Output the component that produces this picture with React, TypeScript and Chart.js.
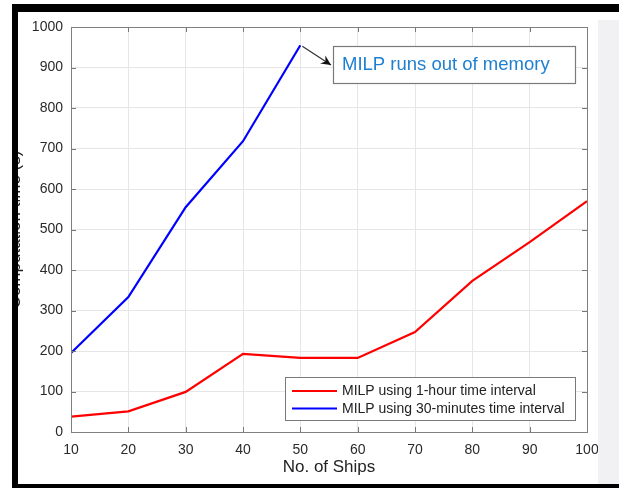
import React, { useEffect, useRef } from "react";
import { Chart, registerables } from "chart.js";

Chart.register(...registerables);

const ships = [10, 20, 30, 40, 50, 60, 70, 80, 90, 100];
const milp1Hour = [38, 51, 99, 193, 183, 183, 247, 373, 469, 570];
const milp30Min = [195, 333, 555, 718, 955];
const seriesLabels = ["MILP using 1-hour time interval", "MILP using 30-minutes time interval"];
const annotationText = "MILP runs out of memory";
const xTitle = "No. of Ships";
const yTitle = "Computation time (s)";

const FONT = "'Liberation Sans', Arial, Helvetica, sans-serif";

const decor = {
  id: "decor",
  beforeDraw(chart: any) {
    const ctx = chart.ctx;
    ctx.save();
    ctx.fillStyle = "#ffffff";
    ctx.fillRect(0, 0, chart.width, chart.height);
    ctx.restore();
  },
  afterDatasetsDraw(chart: any) {
    const ctx = chart.ctx;
    const a = chart.chartArea;
    const xs = chart.scales.x;
    const ys = chart.scales.y;
    ctx.save();
    // inward ticks on all sides
    ctx.strokeStyle = "#777";
    ctx.lineWidth = 1;
    const tl = 5;
    ctx.beginPath();
    xs.ticks.forEach((t: any) => {
      const px = Math.round(xs.getPixelForValue(t.value)) + 0.5;
      ctx.moveTo(px, a.bottom);
      ctx.lineTo(px, a.bottom - tl);
      ctx.moveTo(px, a.top);
      ctx.lineTo(px, a.top + tl);
    });
    ys.ticks.forEach((t: any) => {
      const py = Math.round(ys.getPixelForValue(t.value)) + 0.5;
      ctx.moveTo(a.left, py);
      ctx.lineTo(a.left + tl, py);
      ctx.moveTo(a.right, py);
      ctx.lineTo(a.right - tl, py);
    });
    ctx.stroke();
    // box
    ctx.strokeStyle = "#808080";
    ctx.strokeRect(Math.round(a.left) + 0.5, Math.round(a.top) + 0.5, Math.round(a.right - a.left), Math.round(a.bottom - a.top));

    // annotation arrow
    const sx = xs.getPixelForValue(50) + 2;
    const sy = ys.getPixelForValue(955) + 1;
    const ex = 331, ey = 65;
    ctx.strokeStyle = "#333";
    ctx.lineWidth = 1.2;
    ctx.beginPath();
    ctx.moveTo(sx, sy);
    ctx.lineTo(ex, ey);
    ctx.stroke();
    const ang = Math.atan2(ey - sy, ex - sx);
    const hl = 11, hw = 0.45;
    ctx.fillStyle = "#111";
    ctx.beginPath();
    ctx.moveTo(ex, ey);
    ctx.lineTo(ex - hl * Math.cos(ang - hw), ey - hl * Math.sin(ang - hw));
    ctx.lineTo(ex - hl * 0.6 * Math.cos(ang), ey - hl * 0.6 * Math.sin(ang));
    ctx.lineTo(ex - hl * Math.cos(ang + hw), ey - hl * Math.sin(ang + hw));
    ctx.closePath();
    ctx.fill();

    // annotation box
    ctx.fillStyle = "#ffffff";
    ctx.fillRect(333, 46, 242, 37);
    ctx.strokeStyle = "#7a7a7a";
    ctx.lineWidth = 1.2;
    ctx.strokeRect(333.5, 46.5, 242, 37);
    ctx.fillStyle = "#1f80d2";
    ctx.font = `18.5px ${FONT}`;
    ctx.textBaseline = "middle";
    ctx.textAlign = "left";
    ctx.fillText(annotationText, 342, 65);

    // legend
    ctx.fillStyle = "#ffffff";
    ctx.fillRect(285, 377, 290, 43);
    ctx.strokeStyle = "#7a7a7a";
    ctx.lineWidth = 1;
    ctx.strokeRect(285.5, 377.5, 290, 43);
    ctx.font = `14px ${FONT}`;
    chart.data.datasets.forEach((ds: any, i: number) => {
      const y = 391 + i * 17.5;
      ctx.strokeStyle = ds.borderColor;
      ctx.lineWidth = 2;
      ctx.beginPath();
      ctx.moveTo(292, y);
      ctx.lineTo(337, y);
      ctx.stroke();
      ctx.fillStyle = "#222";
      ctx.fillText(ds.label, 342, y + 0.5);
    });
    ctx.restore();
  },
  afterDraw(chart: any) {
    const ctx = chart.ctx;
    ctx.save();
    // right grey panel
    ctx.fillStyle = "#f1f1f3";
    ctx.fillRect(598, 20, chart.width - 598, chart.height - 20);
    // white margin left of frame
    ctx.fillStyle = "#ffffff";
    ctx.fillRect(0, 0, 12, chart.height);
    // black frame
    ctx.fillStyle = "#000000";
    ctx.fillRect(12, 4, chart.width - 12, 8);
    ctx.fillRect(12, 4, 6, chart.height - 4);
    ctx.fillRect(12, 484, chart.width - 12, 4);
    ctx.restore();
  },
};

export default function App() {
  const ref = useRef<HTMLCanvasElement | null>(null);
  useEffect(() => {
    if (!ref.current) return;
    const chart = new Chart(ref.current, {
      type: "line",
      data: {
        datasets: [
          {
            label: seriesLabels[0],
            data: ships.map((s, i) => ({ x: s, y: milp1Hour[i] })),
            borderColor: "#ff0000",
            backgroundColor: "#ff0000",
            borderWidth: 2.2,
            pointRadius: 0,
            tension: 0,
          },
          {
            label: seriesLabels[1],
            data: milp30Min.map((v, i) => ({ x: ships[i], y: v })),
            borderColor: "#0000ff",
            backgroundColor: "#0000ff",
            borderWidth: 2.2,
            pointRadius: 0,
            tension: 0,
          },
        ],
      },
      options: {
        responsive: false,
        animation: false,
        devicePixelRatio: 1,
        layout: { padding: { left: 0, top: 27, right: 32, bottom: 0 } },
        plugins: { legend: { display: false }, tooltip: { enabled: false } },
        scales: {
          x: {
            type: "linear",
            min: 10,
            max: 100,
            ticks: { stepSize: 10, padding: 10, color: "#2a2a2a", font: { family: FONT, size: 14 }, maxRotation: 0, callback: (v: any) => String(v) },
            grid: { color: "#e6e6e6", drawTicks: false },
            border: { display: false },
            title: { display: true, text: xTitle, color: "#222", font: { family: FONT, size: 17 }, padding: { top: 0, bottom: 10 } },
            afterFit: (s: any) => { s.height = 56; },
          },
          y: {
            type: "linear",
            min: 0,
            max: 1000,
            ticks: { stepSize: 100, padding: 8, color: "#2a2a2a", font: { family: FONT, size: 14 }, callback: (v: any) => String(v) },
            grid: { color: "#e6e6e6", drawTicks: false },
            border: { display: false },
            title: { display: true, text: yTitle, color: "#222", font: { family: FONT, size: 17 }, padding: { top: 5, bottom: 0 } },
            afterFit: (s: any) => { s.width = 71; },
          },
        },
      },
      plugins: [decor],
    });
    return () => chart.destroy();
  }, []);
  return (
    <div style={{ position: "absolute", left: 0, top: 0, width: 619, height: 488 }}>
      <canvas ref={ref} width={619} height={488} style={{ display: "block" }} />
    </div>
  );
}
